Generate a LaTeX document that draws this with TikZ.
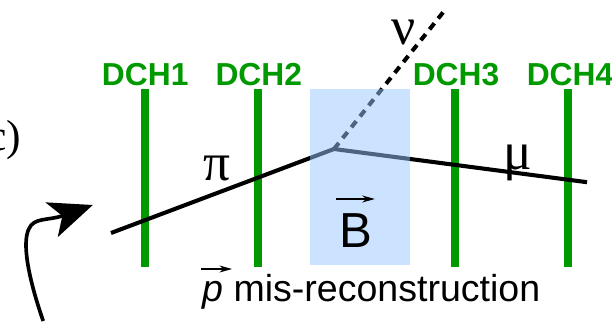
\documentclass[tikz,border=0pt]{standalone}
\usepackage{fontspec}
\setmainfont{Liberation Sans}
\newfontfamily\serifgreek{Liberation Serif}
\usepackage{tikz}
\usetikzlibrary{arrows.meta,positioning,calc}

\definecolor{chamber}{HTML}{009900}
\definecolor{magnet}{RGB}{154,200,255}

\begin{document}
\begin{tikzpicture}[
  >=stealth,
  chamber/.style={draw=chamber, line width=5.7pt},
  chlabel/.style={text=chamber, font=\fontsize{22.6}{24}\selectfont\bfseries, inner sep=0pt},
  greek/.style={font=\fontsize{38}{40}\selectfont\serifgreek, inner sep=0pt},
  label/.style={font=\fontsize{26.7}{30}\selectfont, inner sep=0pt},
  track/.style={draw=black, line width=2.9pt},
  vecarr/.style={-{Stealth[length=9pt,width=5pt]}, line width=0.8pt}
]
\useasboundingbox (0,0) rectangle (15.3,8.025);

% drift chambers
\coordinate (t1) at (3.625,5.8);
\coordinate (b1) at (3.625,1.35);
\coordinate (t2) at (6.45,5.8);
\coordinate (b2) at (6.45,1.35);
\coordinate (t3) at (11.375,5.8);
\coordinate (b3) at (11.375,1.35);
\coordinate (t4) at (14.2,5.8);
\coordinate (b4) at (14.2,1.35);
\draw[chamber] (t1) -- (b1);
\draw[chamber] (t2) -- (b2);
\draw[chamber] (t3) -- (b3);
\draw[chamber] (t4) -- (b4);
\node[chlabel] (dch1) at (3.63,6.17) {DCH1};
\node[chlabel] (dch2) at (6.47,6.17) {DCH2};
\node[chlabel] (dch3) at (11.4,6.17) {DCH3};
\node[chlabel] (dch4) at (14.25,6.17) {DCH4};

% tracks
\coordinate (start) at (2.775,2.2);
\coordinate (kink) at (8.35,4.3);
\coordinate (end) at (14.675,3.47);
\coordinate (nutop) at (11.08,7.72);
\draw[track] (start) -- (kink) -- (end);
\draw[track, dash pattern=on 5.5pt off 4.4pt] (kink) -- (nutop);

% magnet on top of the tracks
\fill[magnet, fill opacity=0.5] (7.75,1.4) rectangle (10.26,5.8);

\node[greek] (nu) at (10.08,7.2) {ν};
\node[greek] (pi) at (5.42,3.82) {π};
\node[greek] (mu) at (12.95,3.95) {μ};

\node[font=\fontsize{35}{37}\selectfont, inner sep=0pt] (B) at (8.9,2.27) {B};
\coordinate (Bl) at (8.4,3.05);
\coordinate (Br) at (9.37,3.05);
\draw[vecarr] (Bl) -- (Br);

\node[label, anchor=base west] (pmis) at (5.05,0.5) {\textit{p} mis-reconstruction};
\coordinate (pl) at (5.03,1.3);
\coordinate (pr) at (5.8,1.3);
\draw[vecarr] (pl) -- (pr);

\node[font=\fontsize{31}{33}\selectfont\serifgreek, inner sep=0pt, anchor=base east] (tag) at (0.54,4.25) {c)};

% curved arrow
\coordinate (a0) at (1.08,0);
\coordinate (a1) at (2.32,2.9);
\draw[line width=2.6pt, -{Stealth[length=31pt,width=26pt,inset=8pt]}] (a0) .. controls (0.7,1.1) and (0.55,1.95) .. (0.72,2.3) .. controls (0.85,2.6) and (1.2,2.5) .. (a1);
\end{tikzpicture}
\end{document}
